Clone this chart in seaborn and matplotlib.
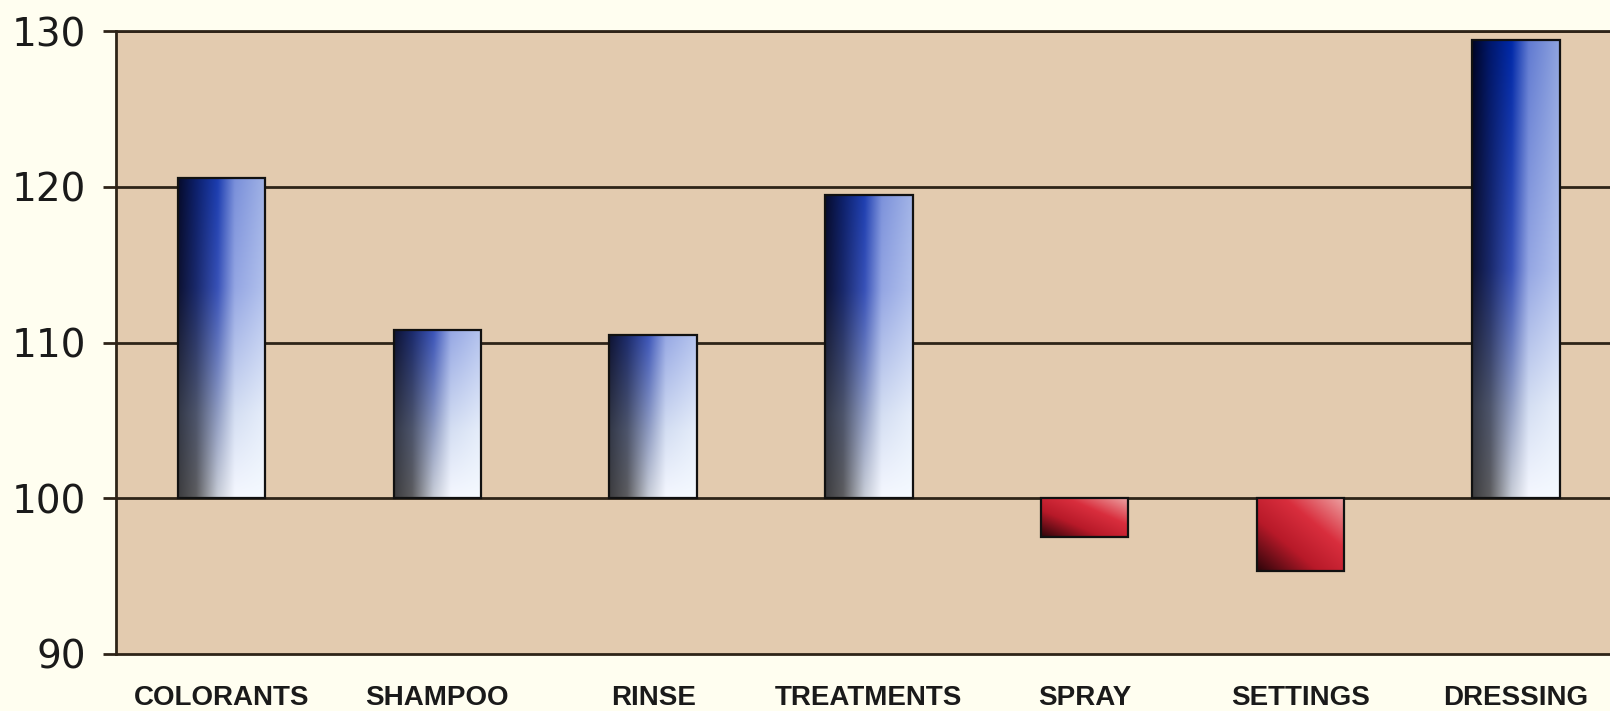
import numpy as np
import pandas as pd
import matplotlib
matplotlib.use('Agg')
import matplotlib.pyplot as plt
import seaborn as sns
from matplotlib.ticker import FuncFormatter

# values (index, base = 100)
categories = ['COLORANTS', 'SHAMPOO', 'RINSE', 'TREATMENTS', 'SPRAY', 'SETTINGS', 'DRESSING']
values = [120.6, 110.8, 110.5, 119.5, 97.5, 95.3, 129.4]
base = 100
y_ticks = [90, 100, 110, 120, 130]

df = pd.DataFrame({'category': categories, 'value': values})
df['delta'] = df['value'] - base

fig = plt.figure(figsize=(16.10, 7.11), dpi=100, facecolor='#FFFEF0')
ax = fig.add_axes([0.072, 0.0802, 0.93, 0.876])
ax.set_facecolor('#E3CBAF')

sns.barplot(data=df, x='category', y='delta', width=0.405, color='#3050B0',
            edgecolor='#111111', linewidth=1.6, ax=ax, zorder=3)

# colour rows of the blue fill (top -> bottom) across the bar width
U_STOPS = [0, 0.2, 0.45, 0.65, 1]
V_STOPS = [0, 0.5, 0.8, 1]
ROWS = [
    [(0.0, 0.02, 0.15), (0.0, 0.09, 0.42), (0.0, 0.16, 0.66), (0.38, 0.48, 0.82), (0.56, 0.64, 0.87)],
    [(0.05, 0.07, 0.20), (0.10, 0.16, 0.42), (0.22, 0.32, 0.72), (0.58, 0.65, 0.89), (0.70, 0.76, 0.93)],
    [(0.20, 0.22, 0.28), (0.30, 0.33, 0.42), (0.56, 0.61, 0.76), (0.83, 0.87, 0.95), (0.90, 0.93, 0.98)],
    [(0.24, 0.24, 0.25), (0.36, 0.36, 0.37), (0.78, 0.80, 0.84), (0.96, 0.97, 1.0), (0.96, 0.98, 1.0)],
]


def blue_gradient(frac, n=200, m=60):
    u = np.linspace(0, 1, m)
    v_norm = np.linspace(0, 1, n)
    # mostly absolute position: short bars look paler at the top
    v = 0.2 * v_norm + 0.8 * (1 - (1 - v_norm) * frac)
    rows = np.array([[np.interp(u, U_STOPS, [c[k] for c in row]) for k in range(3)]
                     for row in ROWS])  # (4, 3, m)
    out = np.empty((n, m, 3))
    for k in range(3):
        for j in range(m):
            out[:, j, k] = np.interp(v, V_STOPS, rows[:, k, j])
    return out


def red_gradient(n=60, m=60):
    u = np.linspace(0, 1, m)[None, :]
    v = np.linspace(0, 1, n)[:, None]
    t = (u + (1 - v)) / 2
    stops = [0, 0.35, 0.65, 1]
    cols = [(0.18, 0.02, 0.04), (0.72, 0.10, 0.16), (0.85, 0.18, 0.24), (0.93, 0.64, 0.64)]
    return np.stack([np.interp(t, stops, c) for c in zip(*cols)], axis=-1)


max_delta = df['delta'].max()
# fill each bar with a gradient image clipped to the bar
for patch, d in zip(ax.patches, df['delta']):
    patch.set_facecolor('none')
    x0 = patch.get_x()
    x1 = x0 + patch.get_width()
    y0 = min(patch.get_y(), patch.get_y() + patch.get_height())
    y1 = max(patch.get_y(), patch.get_y() + patch.get_height())
    img = blue_gradient(d / max_delta) if d >= 0 else red_gradient()
    im = ax.imshow(img, extent=[x0, x1, y0, y1], origin='upper', aspect='auto',
                   zorder=2, interpolation='bilinear')
    im.set_clip_path(patch)

ax.set_xlim(-0.49, 6.45)
ax.set_ylim(y_ticks[0] - base, y_ticks[-1] - base)
ax.set_yticks([t - base for t in y_ticks])
ax.yaxis.set_major_formatter(FuncFormatter(lambda y, p: f'{y + base:.0f}'))

# horizontal rules
for t in y_ticks[1:]:
    ax.axhline(t - base, color='#2E2418', linewidth=2, zorder=1)

ax.spines['right'].set_visible(False)
for s in ['left', 'bottom', 'top']:
    ax.spines[s].set_color('#2E2418')
    ax.spines[s].set_linewidth(2)

ax.set_xlabel('')
ax.set_ylabel('')
ax.tick_params(axis='y', length=9.5, width=2, color='#2E2418', pad=12,
               labelsize=28, labelcolor='#1A1A1A')
ax.tick_params(axis='x', length=0, pad=22)
for lab in ax.get_yticklabels():
    lab.set_family(['DejaVu Sans'])
for lab in ax.get_xticklabels():
    lab.set_family(['Liberation Sans', 'DejaVu Sans'])
    lab.set_fontweight('bold')
    lab.set_fontsize(20)
    lab.set_color('#1A1A1A')

fig.savefig('out.png', dpi=100, facecolor=fig.get_facecolor())
